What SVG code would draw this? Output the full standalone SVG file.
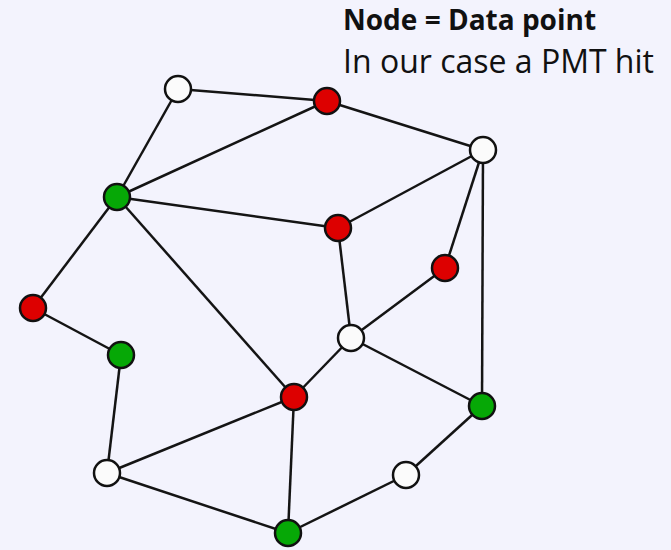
<svg xmlns="http://www.w3.org/2000/svg" width="671" height="550" viewBox="0 0 671 550">
<style>
.e{stroke:#141414;stroke-width:2.5;fill:none}
.n{stroke:#111;stroke-width:2.5}
.w{fill:#fbfbfb}.r{fill:#dd0000}.g{fill:#06a806}
.t{font-family:"Open Sans","Noto Sans",sans-serif;fill:#111}
</style>
<rect width="671" height="550" fill="#f3f3fd"/>
<g id="connectors">
<line class="e" x1="178" y1="89" x2="327" y2="101"/>
<line class="e" x1="178" y1="89" x2="117" y2="197"/>
<line class="e" x1="327" y1="101" x2="117" y2="197"/>
<line class="e" x1="327" y1="101" x2="483" y2="150"/>
<line class="e" x1="483" y1="150" x2="338" y2="228"/>
<line class="e" x1="483" y1="150" x2="445" y2="268"/>
<line class="e" x1="483" y1="150" x2="482" y2="406"/>
<line class="e" x1="117" y1="197" x2="338" y2="228"/>
<line class="e" x1="117" y1="197" x2="33" y2="308"/>
<line class="e" x1="117" y1="197" x2="294" y2="397"/>
<line class="e" x1="338" y1="228" x2="351" y2="338"/>
<line class="e" x1="445" y1="268" x2="351" y2="338"/>
<line class="e" x1="351" y1="338" x2="294" y2="397"/>
<line class="e" x1="351" y1="338" x2="482" y2="406"/>
<line class="e" x1="33" y1="308" x2="121" y2="355"/>
<line class="e" x1="121" y1="355" x2="107" y2="473"/>
<line class="e" x1="107" y1="473" x2="294" y2="397"/>
<line class="e" x1="107" y1="473" x2="288" y2="533"/>
<line class="e" x1="294" y1="397" x2="288" y2="533"/>
<line class="e" x1="288" y1="533" x2="406" y2="475"/>
<line class="e" x1="406" y1="475" x2="482" y2="406"/>
</g>
<g id="n1"><circle class="n w" cx="178" cy="89" r="13"/></g>
<g id="n2"><circle class="n r" cx="327" cy="101" r="13"/></g>
<g id="n3"><circle class="n w" cx="483" cy="150" r="13"/></g>
<g id="n4"><circle class="n g" cx="117" cy="197" r="13"/></g>
<g id="n5"><circle class="n r" cx="338" cy="228" r="13"/></g>
<g id="n6"><circle class="n r" cx="445" cy="268" r="13"/></g>
<g id="n7"><circle class="n r" cx="33" cy="308" r="13"/></g>
<g id="n8"><circle class="n w" cx="351" cy="338" r="13"/></g>
<g id="n9"><circle class="n g" cx="121" cy="355" r="13"/></g>
<g id="n10"><circle class="n r" cx="294" cy="397" r="13"/></g>
<g id="n11"><circle class="n g" cx="482" cy="406" r="13"/></g>
<g id="n12"><circle class="n w" cx="107" cy="473" r="13"/></g>
<g id="n13"><circle class="n w" cx="406" cy="475" r="13"/></g>
<g id="n14"><circle class="n g" cx="288" cy="533" r="13"/></g>
<g id="legend">
<text class="t" x="343" y="30" font-size="28" font-weight="bold">Node = Data point</text>
<text class="t" x="343" y="73" font-size="32">In our case a PMT hit</text>
</g>
</svg>
